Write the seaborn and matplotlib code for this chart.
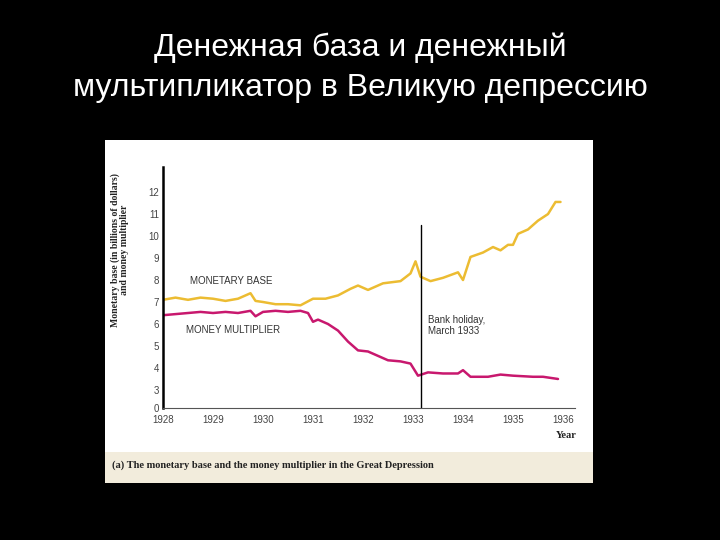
import matplotlib
matplotlib.use("Agg")
import matplotlib.pyplot as plt
import seaborn as sns
import pandas as pd
from matplotlib.patches import Rectangle

base_t = [1928.0, 1928.25, 1928.5, 1928.75, 1929.0, 1929.25, 1929.5, 1929.75, 1929.85, 1930.0, 1930.25, 1930.5,
          1930.75, 1931.0, 1931.25, 1931.5, 1931.75, 1931.9, 1932.1, 1932.4, 1932.75, 1932.95, 1933.05, 1933.15,
          1933.35, 1933.6, 1933.9, 1934.0, 1934.15, 1934.4, 1934.6, 1934.75, 1934.9, 1935.0, 1935.1, 1935.3,
          1935.5, 1935.7, 1935.85, 1935.95]
base_v = [7.1, 7.2, 7.1, 7.2, 7.15, 7.05, 7.15, 7.4, 7.05, 7.0, 6.9, 6.9,
          6.85, 7.15, 7.15, 7.3, 7.6, 7.75, 7.55, 7.85, 7.95, 8.3, 8.85, 8.15,
          7.95, 8.1, 8.35, 8.0, 9.05, 9.25, 9.5, 9.35, 9.6, 9.6, 10.1, 10.3,
          10.7, 11.0, 11.55, 11.55]
mult_t = [1928.0, 1928.25, 1928.5, 1928.75, 1929.0, 1929.25, 1929.5, 1929.75, 1929.85, 1930.0, 1930.25, 1930.5,
          1930.75, 1930.9, 1931.0, 1931.1, 1931.3, 1931.5, 1931.7, 1931.9, 1932.1, 1932.3, 1932.5, 1932.75,
          1932.95, 1933.1, 1933.3, 1933.6, 1933.9, 1934.0, 1934.15, 1934.5, 1934.75, 1935.0, 1935.4, 1935.6, 1935.9]
mult_v = [6.4, 6.45, 6.5, 6.55, 6.5, 6.55, 6.5, 6.6, 6.35, 6.55, 6.6, 6.55,
          6.6, 6.5, 6.1, 6.2, 6.0, 5.7, 5.2, 4.8, 4.75, 4.55, 4.35, 4.3,
          4.2, 3.65, 3.8, 3.75, 3.75, 3.9, 3.6, 3.6, 3.7, 3.65, 3.6, 3.6, 3.5]
years = list(range(1928, 1937))
yticks = [3, 4, 5, 6, 7, 8, 9, 10, 11, 12]
holiday = 1933.15

sns.set_style("white")
plt.rcParams['font.family'] = ['Liberation Sans', 'DejaVu Sans']

fig = plt.figure(figsize=(7.2, 5.4), dpi=100, facecolor="black")
fig.patches.append(Rectangle((105/720, 1-483/540), 488/720, 343/540, transform=fig.transFigure,
                             facecolor="white", edgecolor="none", zorder=-2))
fig.patches.append(Rectangle((105/720, 1-483/540), 488/720, 31/540, transform=fig.transFigure,
                             facecolor="#f2ecdc", edgecolor="none", zorder=-1))
fig.text(0.5, 1-48/540, "Денежная база и денежный", color="white", fontsize=23, ha="center", va="center")
fig.text(0.5, 1-88/540, "мультипликатор в Великую депрессию", color="white", fontsize=23, ha="center", va="center")
fig.text(112/720, 1-465/540, "(a) The monetary base and the money multiplier in the Great Depression",
         fontsize=7.5, fontweight="bold", family="Liberation Serif", color="#222", va="center")

ax = fig.add_axes([163/720, 1-408/540, 412/720, 241/540])
ax.set_facecolor("none")
df_b = pd.DataFrame({"t": base_t, "v": base_v})
df_m = pd.DataFrame({"t": mult_t, "v": mult_v})
sns.lineplot(data=df_b, x="t", y="v", ax=ax, color="#ecbc32", lw=1.8)
sns.lineplot(data=df_m, x="t", y="v", ax=ax, color="#c8186e", lw=1.8)
ax.plot([holiday, holiday], [2.18, 10.5], color="black", lw=1)
ax.set_xlim(1928, 1936.24)
ax.set_ylim(2.18, 13.14)
ax.set_xticks(years)
ax.set_xticklabels([str(y) for y in years], fontsize=7, color="#444")
ax.set_yticks([2.18] + yticks)
ax.set_yticklabels(["0"] + [str(y) for y in yticks], fontsize=7, color="#444")
ax.tick_params(axis="both", length=3, width=0.6, colors="#888", labelcolor="#444", direction="in")
ax.tick_params(axis="x", pad=5)
ax.tick_params(axis="y", pad=3)
for s in ["top", "right"]:
    ax.spines[s].set_visible(False)
ax.spines["left"].set_linewidth(1.8)
ax.spines["left"].set_color("black")
ax.spines["bottom"].set_linewidth(0.8)
ax.spines["bottom"].set_color("#555")
ax.set_xlabel("")
ax.set_ylabel("")
ax.text(1928.55, 7.8, "MONETARY BASE", fontsize=7, color="#333")
ax.text(1928.45, 5.6, "MONEY MULTIPLIER", fontsize=7, color="#333")
ax.text(1933.3, 5.55, "Bank holiday,\nMarch 1933", fontsize=7, color="#333", linespacing=1.1)
fig.text(566/720, 1-438/540, "Year", fontsize=7.5, fontweight="bold", family="Liberation Serif", color="#222", ha="center")
fig.text(120/720, 1-250/540, "Monetary base (in billions of dollars)\nand money multiplier", fontsize=7,
         fontweight="bold", family="Liberation Serif", color="#222", rotation=90, ha="center", va="center",
         linespacing=1.0)
fig.savefig("out.png", dpi=100, facecolor="black")
